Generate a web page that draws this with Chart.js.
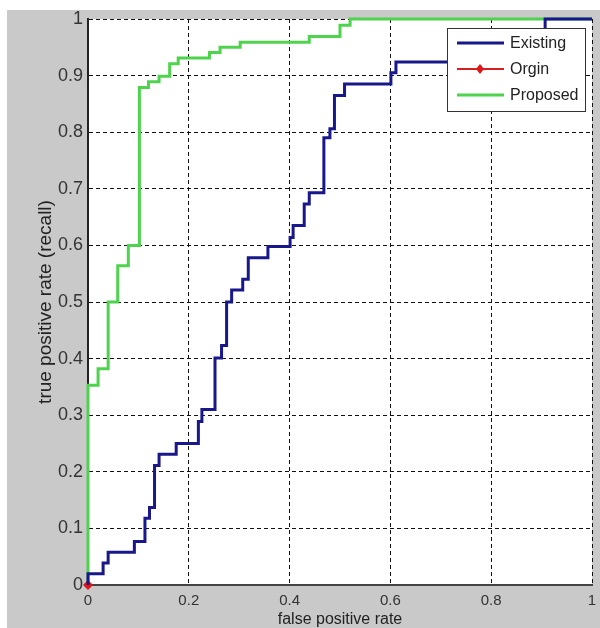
<!DOCTYPE html>
<html lang="en">
<head>
<meta charset="UTF-8">
<title>ROC curve</title>
<script src="https://cdn.jsdelivr.net/npm/chart.js"></script>
<style>
  html, body { margin: 0; padding: 0; background: #fff; }
  canvas { display: block; }
</style>
</head>
<body>
<canvas id="roc" width="600" height="628"></canvas>
<script>
// tick labels
const xTicks = [0, 0.2, 0.4, 0.6, 0.8, 1];
const yTicks = [0, 0.1, 0.2, 0.3, 0.4, 0.5, 0.6, 0.7, 0.8, 0.9, 1];

// series: each point = fpr where the curve jumps, new tpr
const seriesNames = ['Existing', 'Orgin', 'Proposed'];

const existingFpr = [0, 0, 0.03, 0.04, 0.092, 0.113, 0.122, 0.132, 0.141, 0.175, 0.219, 0.226, 0.252, 0.265, 0.275, 0.285, 0.307, 0.318, 0.357, 0.401, 0.407, 0.429, 0.439, 0.468, 0.48, 0.489, 0.509, 0.601, 0.611, 0.907, 1];
const existingTpr = [0, 0.02, 0.039, 0.058, 0.077, 0.118, 0.137, 0.211, 0.231, 0.25, 0.289, 0.31, 0.401, 0.423, 0.5, 0.521, 0.54, 0.578, 0.598, 0.614, 0.635, 0.673, 0.693, 0.79, 0.806, 0.865, 0.885, 0.905, 0.924, 1, 1];

const orginFpr = [0];
const orginTpr = [0];

const proposedFpr = [0, 0, 0.02, 0.04, 0.059, 0.08, 0.102, 0.12, 0.141, 0.162, 0.179, 0.241, 0.262, 0.302, 0.439, 0.5, 0.52, 1];
const proposedTpr = [0, 0.353, 0.382, 0.5, 0.564, 0.6, 0.879, 0.889, 0.899, 0.921, 0.931, 0.941, 0.95, 0.959, 0.969, 0.989, 1, 1];

function pts(xs, ys) {
    return xs.map(function (x, i) { return { x: x, y: ys[i] }; });
}

// grey figure + white axes box
const fundo = {
    id: 'fundo',
    beforeDraw(chart) {
        const ctx = chart.ctx;
        const a = chart.chartArea;
        ctx.save();
        ctx.fillStyle = '#fff';
        ctx.fillRect(0, 0, chart.width, chart.height);
        ctx.fillStyle = '#c9c9c9';
        ctx.fillRect(7, 10, chart.width - 7, chart.height - 10);
        ctx.fillStyle = '#fff';
        ctx.fillRect(a.left, a.top, a.right - a.left, a.bottom - a.top);
        ctx.restore();
    }
};

// matlab style legend in the top right corner
const legenda = {
    id: 'legenda',
    afterDatasetsDraw(chart) {
        const ctx = chart.ctx;
        const a = chart.chartArea;
        const bx = a.right - 145, by = a.top + 9, bw = 138, bh = 83;
        ctx.save();
        ctx.fillStyle = '#fff';
        ctx.fillRect(bx, by, bw, bh);
        ctx.strokeStyle = '#333';
        ctx.lineWidth = 1;
        ctx.strokeRect(bx + 0.5, by + 0.5, bw, bh);

        chart.data.datasets.forEach(function (ds, i) {
            const ly = by + 15 + i * 26;
            ctx.strokeStyle = ds.borderColor;
            ctx.lineWidth = ds.label === 'Orgin' ? 2 : 3;
            ctx.beginPath();
            ctx.moveTo(bx + 10, ly);
            ctx.lineTo(bx + 57, ly);
            ctx.stroke();
            if (ds.label === 'Orgin') {
                ctx.fillStyle = ds.backgroundColor;
                ctx.beginPath();
                ctx.moveTo(bx + 33, ly - 5);
                ctx.lineTo(bx + 37, ly);
                ctx.lineTo(bx + 33, ly + 5);
                ctx.lineTo(bx + 29, ly);
                ctx.closePath();
                ctx.fill();
            }
            ctx.fillStyle = '#222';
            ctx.font = '16px "Liberation Sans", Arial, sans-serif';
            ctx.textBaseline = 'middle';
            ctx.textAlign = 'left';
            ctx.fillText(ds.label, bx + 63, ly + 1);
        });
        ctx.restore();
    }
};

const fonte = '"Liberation Sans", Arial, sans-serif';

new Chart(document.getElementById('roc').getContext('2d'), {
    type: 'line',
    data: {
        datasets: [
            {
                label: seriesNames[0],
                data: pts(existingFpr, existingTpr),
                borderColor: '#18188a',
                backgroundColor: '#18188a',
                borderWidth: 3,
                stepped: 'before',
                pointRadius: 0,
                fill: false,
                clip: 4
            },
            {
                label: seriesNames[1],
                data: pts(orginFpr, orginTpr),
                borderColor: '#d42020',
                backgroundColor: '#e01515',
                borderWidth: 2,
                pointStyle: 'rectRot',
                pointRadius: 5,
                pointBorderWidth: 0,
                showLine: false,
                clip: 8
            },
            {
                label: seriesNames[2],
                data: pts(proposedFpr, proposedTpr),
                borderColor: '#4fd34f',
                backgroundColor: '#4fd34f',
                borderWidth: 3,
                stepped: 'before',
                pointRadius: 0,
                fill: false,
                clip: 4
            }
        ]
    },
    options: {
        responsive: false,
        animation: false,
        layout: { padding: { top: 19, right: 8, left: 0, bottom: 0 } },
        plugins: {
            legend: { display: false },
            tooltip: { enabled: false }
        },
        scales: {
            x: {
                type: 'linear',
                min: 0,
                max: 1,
                afterBuildTicks: function (s) { s.ticks = xTicks.map(function (v) { return { value: v }; }); },
                afterFit: function (s) { s.height = 43; s.paddingLeft = 0; s.paddingRight = 0; },
                grid: { color: '#111', lineWidth: 1, drawTicks: false },
                border: { display: true, color: '#444', width: 2, dash: [4, 3] },
                ticks: {
                    color: '#333',
                    font: { family: fonte, size: 15 },
                    padding: 7,
                    maxRotation: 0,
                    callback: function (v) { return String(Math.round(v * 10) / 10); }
                },
                title: {
                    display: true,
                    text: 'false positive rate',
                    color: '#222',
                    font: { family: fonte, size: 16, lineHeight: 1 },
                    padding: { top: 0, bottom: 0 }
                }
            },
            y: {
                type: 'linear',
                min: 0,
                max: 1,
                afterBuildTicks: function (s) { s.ticks = yTicks.map(function (v) { return { value: v }; }); },
                afterFit: function (s) { s.width = 88; s.paddingTop = 0; s.paddingBottom = 0; },
                grid: { color: '#111', lineWidth: 1, drawTicks: false },
                border: { display: true, color: '#222', width: 2, dash: [4, 3] },
                ticks: {
                    color: '#333',
                    font: { family: fonte, size: 18 },
                    padding: 5,
                    callback: function (v) { return String(Math.round(v * 10) / 10); }
                },
                title: {
                    display: true,
                    text: 'true positive rate (recall)',
                    color: '#222',
                    font: { family: fonte, size: 19 },
                    padding: { top: 34, bottom: 0 }
                }
            }
        }
    },
    plugins: [fundo, legenda]
});
</script>
</body>
</html>
